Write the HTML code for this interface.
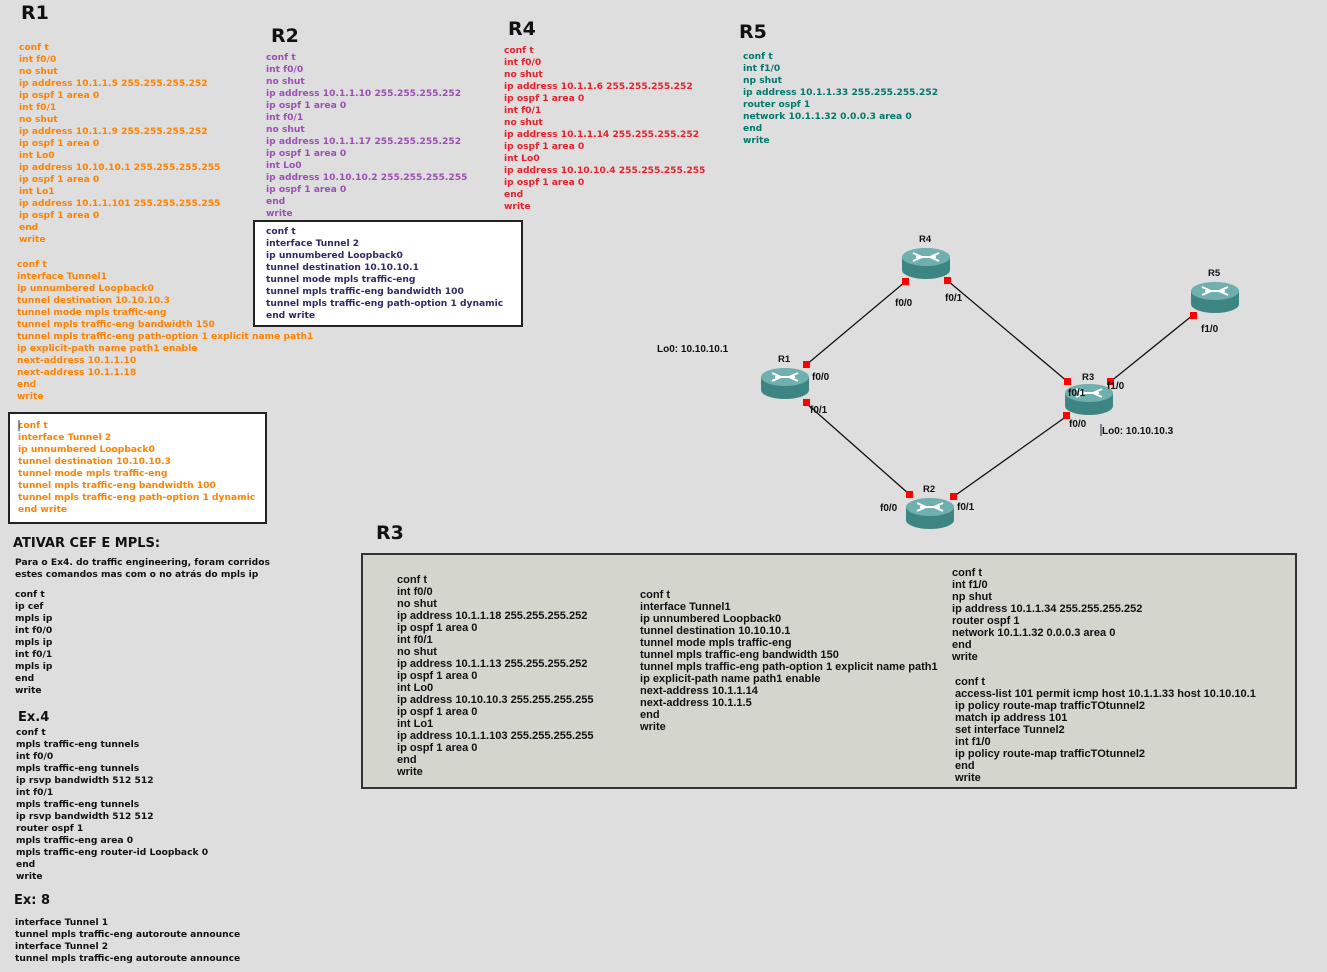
<!DOCTYPE html>
<html><head><meta charset="utf-8"><style>
html,body{margin:0;padding:0}
body{width:1327px;height:972px;background:#dedede;position:relative;overflow:hidden;font-family:"DejaVu Sans","Liberation Sans",sans-serif;font-weight:bold}
.b{position:absolute;margin:0;font-size:9.15px;line-height:12px;white-space:pre;font-family:"DejaVu Sans",sans-serif;font-weight:bold}
.t{position:absolute;font-size:19px;font-weight:bold;color:#111;font-family:"DejaVu Sans",sans-serif;line-height:20px}
.o{color:#ff8200}.p{color:#9b4fb3}.r{color:#e8202a}.g{color:#00786a}.k{color:#111}.n{color:#2e2a66}
.box{position:absolute;background:#fff;border:2px solid #222;box-sizing:border-box}
.l{position:absolute;margin:0;font-family:"Liberation Sans",sans-serif;font-weight:bold;font-size:11.05px;line-height:12px;white-space:pre;color:#111}
</style></head><body>
<div class="t" style="left:21px;top:3px">R1</div>
<div class="t" style="left:271px;top:26px">R2</div>
<div class="t" style="left:508px;top:19px">R4</div>
<div class="t" style="left:739px;top:22px">R5</div>
<div class="t" style="left:376px;top:523px">R3</div>

<pre class="b o" style="left:19px;top:42px">conf t
int f0/0
no shut
ip address 10.1.1.5 255.255.255.252
ip ospf 1 area 0
int f0/1
no shut
ip address 10.1.1.9 255.255.255.252
ip ospf 1 area 0
int Lo0
ip address 10.10.10.1 255.255.255.255
ip ospf 1 area 0
int Lo1
ip address 10.1.1.101 255.255.255.255
ip ospf 1 area 0
end
write</pre>
<pre class="b o" style="left:17px;top:259px">conf t
interface Tunnel1
ip unnumbered Loopback0
tunnel destination 10.10.10.3
tunnel mode mpls traffic-eng
tunnel mpls traffic-eng bandwidth 150
tunnel mpls traffic-eng path-option 1 explicit name path1
ip explicit-path name path1 enable
next-address 10.1.1.10
next-address 10.1.1.18
end
write</pre>
<div class="box" style="left:8px;top:412px;width:259px;height:112px"></div>
<pre class="b o" style="left:18px;top:420px">conf t
interface Tunnel 2
ip unnumbered Loopback0
tunnel destination 10.10.10.3
tunnel mode mpls traffic-eng
tunnel mpls traffic-eng bandwidth 100
tunnel mpls traffic-eng path-option 1 dynamic
end write</pre>

<pre class="b p" style="left:266px;top:52px">conf t
int f0/0
no shut
ip address 10.1.1.10 255.255.255.252
ip ospf 1 area 0
int f0/1
no shut
ip address 10.1.1.17 255.255.255.252
ip ospf 1 area 0
int Lo0
ip address 10.10.10.2 255.255.255.255
ip ospf 1 area 0
end
write</pre>
<div class="box" style="left:253px;top:220px;width:270px;height:107px"></div>
<pre class="b n" style="left:266px;top:226px">conf t
interface Tunnel 2
ip unnumbered Loopback0
tunnel destination 10.10.10.1
tunnel mode mpls traffic-eng
tunnel mpls traffic-eng bandwidth 100
tunnel mpls traffic-eng path-option 1 dynamic
end write</pre>

<pre class="b r" style="left:504px;top:45px">conf t
int f0/0
no shut
ip address 10.1.1.6 255.255.255.252
ip ospf 1 area 0
int f0/1
no shut
ip address 10.1.1.14 255.255.255.252
ip ospf 1 area 0
int Lo0
ip address 10.10.10.4 255.255.255.255
ip ospf 1 area 0
end
write</pre>
<pre class="b g" style="left:743px;top:51px">conf t
int f1/0
np shut
ip address 10.1.1.33 255.255.255.252
router ospf 1
network 10.1.1.32 0.0.0.3 area 0
end
write</pre>

<div class="b k" style="left:13px;top:536px;font-size:13px;line-height:16px">ATIVAR CEF E MPLS:</div>
<pre class="b k" style="left:15px;top:557px">Para o Ex4. do traffic engineering, foram corridos
estes comandos mas com o no atrás do mpls ip</pre>
<pre class="b k" style="left:15px;top:589px">conf t
ip cef
mpls ip
int f0/0
mpls ip
int f0/1
mpls ip
end
write</pre>
<div class="b k" style="left:18px;top:710px;font-size:13px;line-height:16px">Ex.4</div>
<pre class="b k" style="left:16px;top:727px">conf t
mpls traffic-eng tunnels
int f0/0
mpls traffic-eng tunnels
ip rsvp bandwidth 512 512
int f0/1
mpls traffic-eng tunnels
ip rsvp bandwidth 512 512
router ospf 1
mpls traffic-eng area 0
mpls traffic-eng router-id Loopback 0
end
write</pre>
<div class="b k" style="left:14px;top:893px;font-size:13px;line-height:16px">Ex: 8</div>
<pre class="b k" style="left:15px;top:917px">interface Tunnel 1
tunnel mpls traffic-eng autoroute announce
interface Tunnel 2
tunnel mpls traffic-eng autoroute announce</pre>

<div class="box" style="left:361px;top:553px;width:936px;height:236px;background:#d4d6ce;border-color:#333"></div>
<pre class="l" style="left:397px;top:574px">conf t
int f0/0
no shut
ip address 10.1.1.18 255.255.255.252
ip ospf 1 area 0
int f0/1
no shut
ip address 10.1.1.13 255.255.255.252
ip ospf 1 area 0
int Lo0
ip address 10.10.10.3 255.255.255.255
ip ospf 1 area 0
int Lo1
ip address 10.1.1.103 255.255.255.255
ip ospf 1 area 0
end
write</pre>
<pre class="l" style="left:640px;top:589px">conf t
interface Tunnel1
ip unnumbered Loopback0
tunnel destination 10.10.10.1
tunnel mode mpls traffic-eng
tunnel mpls traffic-eng bandwidth 150
tunnel mpls traffic-eng path-option 1 explicit name path1
ip explicit-path name path1 enable
next-address 10.1.1.14
next-address 10.1.1.5
end
write</pre>
<pre class="l" style="left:952px;top:567px">conf t
int f1/0
np shut
ip address 10.1.1.34 255.255.255.252
router ospf 1
network 10.1.1.32 0.0.0.3 area 0
end
write</pre>
<pre class="l" style="left:955px;top:676px">conf t
access-list 101 permit icmp host 10.1.1.33 host 10.10.10.1
ip policy route-map trafficTOtunnel2
match ip address 101
set interface Tunnel2
int f1/0
ip policy route-map trafficTOtunnel2
end
write</pre>

<svg width="1327" height="972" style="position:absolute;left:0;top:0" xmlns="http://www.w3.org/2000/svg" font-family="Liberation Sans, sans-serif" font-weight="bold" font-size="10">
<defs>
<g id="rt">
<path d="M-24,-5 L-24,8 A24,9 0 0 0 24,8 L24,-5 Z" fill="#3d8583"/>
<ellipse cx="0" cy="-5" rx="24" ry="9" fill="#6fb0ae"/>
<path d="M-13,-9 L-4,-5 M-13,-1 L-4,-5 M13,-9 L4,-5 M13,-1 L4,-5 M-10,-5 L10,-5" stroke="#fff" stroke-width="2" fill="none"/>
</g>
</defs>
<g stroke="#111" stroke-width="1.3">
<line x1="806" y1="365" x2="905" y2="282"/>
<line x1="948" y1="281" x2="1068" y2="382"/>
<line x1="806" y1="403" x2="909" y2="494"/>
<line x1="953" y1="497" x2="1067" y2="416"/>
<line x1="1193" y1="315" x2="1110" y2="382"/>
</g>
<use href="#rt" x="926" y="262"/>
<use href="#rt" x="785" y="382"/>
<use href="#rt" x="1089" y="398"/>
<use href="#rt" x="930" y="512"/>
<use href="#rt" x="1215" y="296"/>
<g fill="#f00">
<rect x="902" y="278" width="7" height="7"/><rect x="944" y="277" width="7" height="7"/>
<rect x="803" y="361" width="7" height="7"/><rect x="803" y="399" width="7" height="7"/>
<rect x="1064" y="378" width="7" height="7"/><rect x="1107" y="378" width="7" height="7"/>
<rect x="1063" y="412" width="7" height="7"/><rect x="906" y="491" width="7" height="7"/>
<rect x="950" y="493" width="7" height="7"/><rect x="1190" y="312" width="7" height="7"/>
</g>
<g fill="#111" font-size="9.5">
<text x="919" y="242">R4</text><text x="778" y="362">R1</text><text x="1082" y="380">R3</text>
<text x="923" y="492">R2</text><text x="1208" y="276">R5</text>
</g>
<g fill="#111">
<text x="895" y="306">f0/0</text><text x="945" y="301">f0/1</text><text x="1201" y="332">f1/0</text>
<text x="812" y="380">f0/0</text><text x="810" y="413">f0/1</text><text x="1068" y="396">f0/1</text>
<text x="1107" y="389">f1/0</text><text x="1069" y="427">f0/0</text><text x="880" y="511">f0/0</text>
<text x="957" y="510">f0/1</text>
<text x="657" y="352">Lo0: 10.10.10.1</text><text x="1102" y="434">Lo0: 10.10.10.3</text>
</g>
<line x1="1101" y1="424" x2="1101" y2="436" stroke="#224" stroke-width="1"/>
<line x1="19" y1="420" x2="19" y2="431" stroke="#224" stroke-width="1"/>
</svg>
</body></html>
